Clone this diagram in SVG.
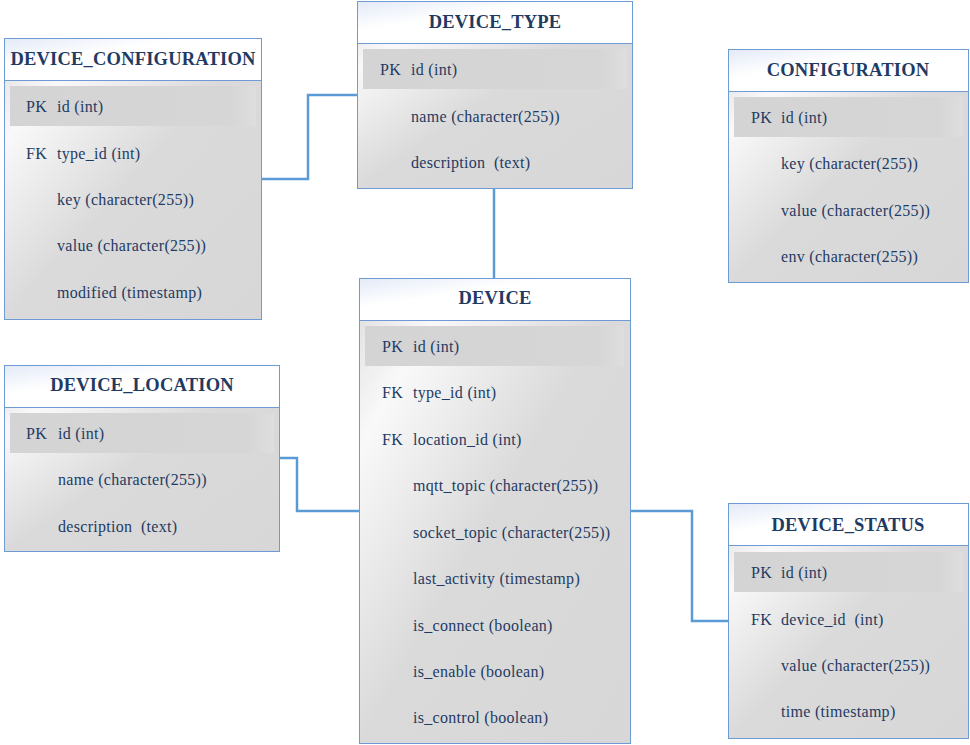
<svg xmlns="http://www.w3.org/2000/svg" width="970" height="745" viewBox="0 0 970 745">
<defs>
<linearGradient id="body" x1="0" y1="0" x2="1" y2="1">
<stop offset="0" stop-color="#dcdcdc"/>
<stop offset="0.18" stop-color="#f9f9f9"/>
<stop offset="0.5" stop-color="#dadada"/>
<stop offset="1" stop-color="#d7d7d7"/>
</linearGradient>
<linearGradient id="head" x1="0" y1="0" x2="1" y2="1">
<stop offset="0" stop-color="#e3eaf7"/>
<stop offset="0.35" stop-color="#ffffff"/>
<stop offset="1" stop-color="#ffffff"/>
</linearGradient>
<linearGradient id="pk" x1="0" y1="0" x2="1" y2="0">
<stop offset="0" stop-color="#d4d4d4"/>
<stop offset="0.9" stop-color="#d6d6d6"/>
<stop offset="1" stop-color="#dedede"/>
</linearGradient>
</defs>
<style>
.box{fill:url(#body);stroke:#6e9bd3;stroke-width:1}
.hd{fill:url(#head);stroke:#6e9bd3;stroke-width:1}
.pk{fill:url(#pk)}
text{font-family:'Liberation Serif','DejaVu Serif',serif;fill:#1f3b63;white-space:pre}
.t{font-weight:bold;font-size:18.5px;letter-spacing:0.2px;text-anchor:middle;dominant-baseline:central}
.r{font-size:16px;letter-spacing:0.3px;dominant-baseline:central}
.c{fill:none;stroke:#5b9bd5;stroke-width:2.5}
</style>
<rect width="970" height="745" fill="#ffffff"/>
<g id="connectors">
<polyline class="c" points="261,179 308,179 308,95 357,95"/>
<polyline class="c" points="494,188 494,278"/>
<polyline class="c" points="279,458 297,458 297,511 359,511"/>
<polyline class="c" points="630,511 692,511 692,621 728,621"/>
</g>
<g id="device_configuration">
<rect class="box" x="4.5" y="38.5" width="257" height="281"/>
<rect class="hd" x="4.5" y="38.5" width="257" height="42"/>
<rect class="pk" x="10" y="86" width="246" height="40"/>
<text class="t" x="133" y="59">DEVICE_CONFIGURATION</text>
<text class="r" x="26" y="106">PK</text><text class="r" x="57" y="106">id (int)</text>
<text class="r" x="26" y="153">FK</text><text class="r" x="57" y="153">type_id (int)</text>
<text class="r" x="57" y="199">key (character(255))</text>
<text class="r" x="57" y="245">value (character(255))</text>
<text class="r" x="57" y="292">modified (timestamp)</text>
</g>
<g id="device_type">
<rect class="box" x="357.5" y="1.5" width="275" height="187"/>
<rect class="hd" x="357.5" y="1.5" width="275" height="42"/>
<rect class="pk" x="363" y="49" width="264" height="40"/>
<text class="t" x="495" y="22">DEVICE_TYPE</text>
<text class="r" x="380" y="69">PK</text><text class="r" x="411" y="69">id (int)</text>
<text class="r" x="411" y="116">name (character(255))</text>
<text class="r" x="411" y="162">description  (text)</text>
</g>
<g id="configuration">
<rect class="box" x="728.5" y="49.5" width="240" height="233"/>
<rect class="hd" x="728.5" y="49.5" width="240" height="42"/>
<rect class="pk" x="734" y="97" width="229" height="40"/>
<text class="t" x="848" y="70">CONFIGURATION</text>
<text class="r" x="751" y="117">PK</text><text class="r" x="781" y="117">id (int)</text>
<text class="r" x="781" y="163">key (character(255))</text>
<text class="r" x="781" y="210">value (character(255))</text>
<text class="r" x="781" y="256">env (character(255))</text>
</g>
<g id="device">
<rect class="box" x="359.5" y="278.5" width="271" height="465"/>
<rect class="hd" x="359.5" y="278.5" width="271" height="42"/>
<rect class="pk" x="365" y="326" width="259" height="40"/>
<text class="t" x="495" y="298">DEVICE</text>
<text class="r" x="382" y="346">PK</text><text class="r" x="413" y="346">id (int)</text>
<text class="r" x="382" y="392">FK</text><text class="r" x="413" y="392">type_id (int)</text>
<text class="r" x="382" y="439">FK</text><text class="r" x="413" y="439">location_id (int)</text>
<text class="r" x="413" y="485">mqtt_topic (character(255))</text>
<text class="r" x="413" y="532">socket_topic (character(255))</text>
<text class="r" x="413" y="578">last_activity (timestamp)</text>
<text class="r" x="413" y="625">is_connect (boolean)</text>
<text class="r" x="413" y="671">is_enable (boolean)</text>
<text class="r" x="413" y="717">is_control (boolean)</text>
</g>
<g id="device_location">
<rect class="box" x="4.5" y="365.5" width="275" height="186"/>
<rect class="hd" x="4.5" y="365.5" width="275" height="42"/>
<rect class="pk" x="10" y="413" width="264" height="40"/>
<text class="t" x="142" y="385">DEVICE_LOCATION</text>
<text class="r" x="26" y="433">PK</text><text class="r" x="58" y="433">id (int)</text>
<text class="r" x="58" y="479">name (character(255))</text>
<text class="r" x="58" y="526">description  (text)</text>
</g>
<g id="device_status">
<rect class="box" x="728.5" y="503.5" width="240" height="235"/>
<rect class="hd" x="728.5" y="503.5" width="240" height="42"/>
<rect class="pk" x="734" y="552" width="229" height="40"/>
<text class="t" x="848" y="525">DEVICE_STATUS</text>
<text class="r" x="751" y="572">PK</text><text class="r" x="781" y="572">id (int)</text>
<text class="r" x="751" y="619">FK</text><text class="r" x="781" y="619">device_id  (int)</text>
<text class="r" x="781" y="665">value (character(255))</text>
<text class="r" x="781" y="711">time (timestamp)</text>
</g>
</svg>
